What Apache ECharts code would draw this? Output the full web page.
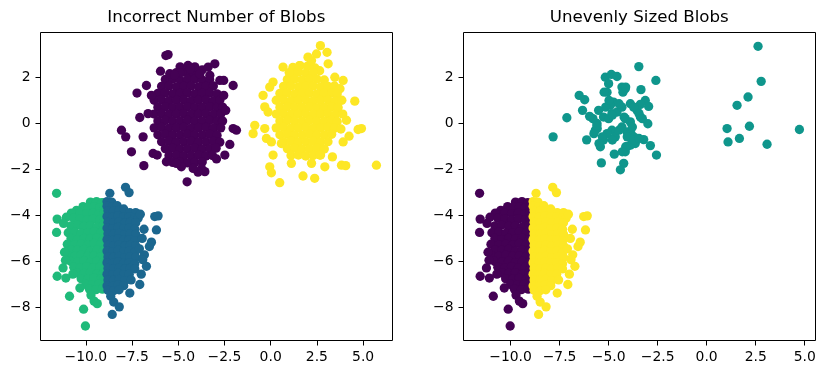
<!DOCTYPE html>
<html>
<head>
<meta charset="utf-8">
<script src="https://cdn.jsdelivr.net/npm/echarts@6/dist/echarts.min.js"></script>
<style>
html,body{margin:0;padding:0;background:#fff;}
#chart{width:825px;height:374px;}
</style>
</head>
<body>
<div id="chart"></div>
<script>
const titles = ['Incorrect Number of Blobs', 'Unevenly Sized Blobs'];
const xTicks = [-10, -7.5, -5, -2.5, 0, 2.5, 5];
const yTicks = [-8, -6, -4, -2, 0, 2];

// lower-left blob, western part
const lowerWest = [
[-9.75,-3.42],[-9.42,-3.4],[-9.12,-3.45],
[-10.15,-3.62],[-9.85,-3.65],[-9.55,-3.62],[-9.25,-3.66],[-9.0,-3.6],
[-10.5,-3.78],[-10.78,-3.9],[-10.3,-3.9],[-9.95,-3.92],[-9.6,-3.9],[-9.28,-3.93],[-9.0,-3.88],
[-11.05,-4.08],[-10.65,-4.12],[-10.3,-4.15],[-9.95,-4.2],[-9.6,-4.15],[-9.25,-4.2],[-9.0,-4.12],
[-10.8,-4.45],[-10.45,-4.42],[-10.1,-4.48],[-9.75,-4.45],[-9.4,-4.5],[-9.05,-4.42],
[-10.95,-4.75],[-10.6,-4.72],[-10.25,-4.78],[-9.9,-4.75],[-9.55,-4.7],[-9.2,-4.76],
[-10.8,-5.0],[-10.45,-5.05],[-10.1,-5.0],[-9.75,-5.02],[-9.4,-4.98],[-9.05,-5.04],
[-11.0,-5.25],[-10.6,-5.28],[-10.25,-5.25],[-9.9,-5.3],[-9.55,-5.22],[-9.2,-5.27],
[-10.8,-5.5],[-10.45,-5.52],[-10.1,-5.48],[-9.75,-5.55],[-9.4,-5.5],[-9.05,-5.52],
[-10.95,-5.75],[-10.6,-5.78],[-10.25,-5.72],[-9.9,-5.78],[-9.55,-5.75],[-9.2,-5.8],
[-10.8,-6.0],[-10.45,-6.02],[-10.1,-5.98],[-9.75,-6.05],[-9.4,-6.0],[-9.05,-6.02],
[-10.65,-6.25],[-10.3,-6.28],[-9.95,-6.22],[-9.6,-6.28],[-9.25,-6.25],[-9.0,-6.3],
[-10.45,-6.5],[-10.1,-6.52],[-9.75,-6.48],[-9.4,-6.55],[-9.05,-6.5],
[-10.25,-6.75],[-9.9,-6.78],[-9.55,-6.72],[-9.2,-6.78],[-9.0,-6.72],
[-10.0,-7.0],[-9.65,-7.02],[-9.3,-6.98],[-9.0,-7.05],
[-9.8,-7.2],[-9.45,-7.22],[-9.1,-7.2],
[-11.58,-3.04],[-11.55,-4.16],[-11.58,-4.74],[-11.2,-4.35],[-11.15,-5.6],[-11.1,-5.95],
[-11.55,-6.64],[-11.23,-6.28],[-11.08,-6.72],[-10.88,-7.51],[-10.32,-7.15],[-10.12,-8.07],
[-10.02,-8.8],[-9.72,-7.46],[-9.55,-7.72],[-9.38,-7.83],[-10.7,-6.55]
];

// lower-left blob, eastern part
const lowerEast = [
[-8.85,-3.4],[-8.6,-3.42],
[-8.85,-3.6],[-8.55,-3.62],[-8.3,-3.58],
[-8.8,-3.8],[-8.5,-3.82],[-8.2,-3.78],[-7.95,-3.72],[-7.62,-3.88],[-7.3,-3.88],
[-8.85,-4.05],[-8.55,-4.08],[-8.25,-4.02],[-7.95,-4.06],[-7.65,-4.05],[-7.35,-4.1],[-7.17,-4.12],
[-8.8,-4.3],[-8.5,-4.32],[-8.2,-4.28],[-7.9,-4.33],[-7.6,-4.3],[-7.3,-4.32],
[-8.85,-4.55],[-8.55,-4.58],[-8.25,-4.52],[-7.95,-4.57],[-7.65,-4.55],[-7.35,-4.6],
[-8.8,-4.8],[-8.5,-4.82],[-8.2,-4.78],[-7.9,-4.83],[-7.6,-4.8],[-7.3,-4.82],
[-8.85,-5.05],[-8.55,-5.08],[-8.25,-5.02],[-7.95,-5.07],[-7.65,-5.05],[-7.35,-5.1],
[-8.8,-5.3],[-8.5,-5.32],[-8.2,-5.28],[-7.9,-5.33],[-7.6,-5.3],[-7.3,-5.32],
[-8.85,-5.55],[-8.55,-5.58],[-8.25,-5.52],[-7.95,-5.57],[-7.65,-5.55],[-7.35,-5.6],
[-8.8,-5.8],[-8.5,-5.82],[-8.2,-5.78],[-7.9,-5.83],[-7.6,-5.8],[-7.3,-5.82],
[-8.85,-6.05],[-8.55,-6.08],[-8.25,-6.02],[-7.95,-6.07],[-7.65,-6.05],[-7.35,-6.1],
[-8.8,-6.3],[-8.5,-6.32],[-8.2,-6.28],[-7.9,-6.33],[-7.6,-6.3],[-7.35,-6.32],
[-8.85,-6.55],[-8.55,-6.58],[-8.25,-6.52],[-7.95,-6.57],[-7.65,-6.55],
[-8.8,-6.8],[-8.5,-6.82],[-8.2,-6.78],[-7.9,-6.83],[-7.55,-6.8],
[-8.85,-7.05],[-8.55,-7.08],[-8.25,-7.02],[-7.95,-7.05],
[-8.8,-7.25],[-8.5,-7.27],[-8.2,-7.23],
[-8.7,-3.04],[-7.85,-2.78],[-7.66,-3.01],
[-6.27,-4.05],[-6.09,-4.02],[-6.18,-4.63],[-6.45,-5.16],[-6.56,-5.35],[-6.83,-5.71],
[-6.92,-5.92],[-6.72,-6.21],[-7.08,-7.0],[-7.62,-7.37],[-8.65,-7.51],[-8.49,-7.76],
[-8.19,-7.97],[-8.57,-8.3],[-6.85,-4.6],[-6.95,-5.0],[-7.0,-6.55],[-7.1,-5.45],[-7.05,-3.95]
];

// upper-middle blob
const upperWest = [
[-5.1,2.2],[-4.7,2.22],[-4.3,2.18],[-3.9,2.2],
[-5.7,1.9],[-5.3,1.92],[-4.9,1.88],[-4.5,1.9],[-4.1,1.92],[-3.7,1.88],[-3.3,1.9],
[-5.9,1.6],[-5.5,1.62],[-5.1,1.58],[-4.7,1.6],[-4.3,1.62],[-3.9,1.58],[-3.5,1.6],[-3.1,1.62],
[-6.1,1.3],[-5.7,1.32],[-5.3,1.28],[-4.9,1.3],[-4.5,1.32],[-4.1,1.28],[-3.7,1.3],[-3.3,1.32],[-2.9,1.28],
[-6.3,1.0],[-5.9,1.02],[-5.5,0.98],[-5.1,1.0],[-4.7,1.02],[-4.3,0.98],[-3.9,1.0],[-3.5,1.02],[-3.1,0.98],[-2.75,1.0],
[-6.1,0.7],[-5.7,0.72],[-5.3,0.68],[-4.9,0.7],[-4.5,0.72],[-4.1,0.68],[-3.7,0.7],[-3.3,0.72],[-2.9,0.68],[-2.6,0.7],
[-6.3,0.4],[-5.9,0.42],[-5.5,0.38],[-5.1,0.4],[-4.7,0.42],[-4.3,0.38],[-3.9,0.4],[-3.5,0.42],[-3.1,0.38],[-2.7,0.4],
[-6.1,0.1],[-5.7,0.12],[-5.3,0.08],[-4.9,0.1],[-4.5,0.12],[-4.1,0.08],[-3.7,0.1],[-3.3,0.12],[-2.9,0.08],[-2.6,0.1],
[-6.3,-0.2],[-5.9,-0.18],[-5.5,-0.22],[-5.1,-0.2],[-4.7,-0.18],[-4.3,-0.22],[-3.9,-0.2],[-3.5,-0.18],[-3.1,-0.22],[-2.7,-0.2],
[-6.1,-0.5],[-5.7,-0.48],[-5.3,-0.52],[-4.9,-0.5],[-4.5,-0.48],[-4.1,-0.52],[-3.7,-0.5],[-3.3,-0.48],[-2.9,-0.52],
[-5.9,-0.8],[-5.5,-0.78],[-5.1,-0.82],[-4.7,-0.8],[-4.3,-0.78],[-3.9,-0.82],[-3.5,-0.8],[-3.1,-0.78],[-2.75,-0.82],
[-5.7,-1.1],[-5.3,-1.08],[-4.9,-1.12],[-4.5,-1.1],[-4.1,-1.08],[-3.7,-1.12],[-3.3,-1.1],[-2.95,-1.08],
[-5.5,-1.4],[-5.1,-1.38],[-4.7,-1.42],[-4.3,-1.4],[-3.9,-1.38],[-3.5,-1.42],[-3.15,-1.4],
[-5.3,-1.7],[-4.9,-1.68],[-4.5,-1.72],[-4.1,-1.7],[-3.7,-1.68],
[-4.9,2.45],[-4.1,2.45],[-3.7,2.32],
[-5.67,2.94],[-5.55,2.98],[-5.96,2.26],[-5.46,2.15],[-4.47,2.51],[-4.34,2.36],[-3.83,2.15],
[-3.38,2.44],[-3.02,2.58],[-3.29,2.08],[-2.75,1.86],[-2.54,1.86],[-2.03,1.64],[-2.54,1.21],
[-2.43,0.56],[-2.03,-0.23],[-1.85,-0.3],[-2.21,-0.92],[-2.48,-1.38],[-2.93,-1.55],[-3.56,-2.1],
[-3.74,-1.96],[-3.93,-2.12],[-4.52,-2.54],[-4.19,-1.96],[-4.83,-1.89],[-5.1,-1.74],[-5.64,-1.67],
[-6.36,-1.31],[-6.14,-1.38],[-6.86,-1.84],[-7.53,-1.24],[-7.84,-0.59],[-8.07,-0.3],[-6.9,-0.59],
[-7.08,0.25],[-7.23,1.31],[-6.72,1.64],[-6.45,1.21],[-6.63,0.42],[-4.9,2.2],[-5.2,2.1]
];

// upper-right blob
const upperEast = [
[1.2,2.42],[1.6,2.5],[2.0,2.48],[2.4,2.4],[2.65,2.28],
[1.1,2.2],[1.5,2.22],[1.9,2.18],[2.3,2.2],
[0.9,1.9],[1.3,1.92],[1.7,1.88],[2.1,1.9],[2.5,1.92],[2.9,1.88],
[0.7,1.6],[1.1,1.62],[1.5,1.58],[1.9,1.6],[2.3,1.62],[2.7,1.58],[3.1,1.6],[3.45,1.62],[3.75,1.5],
[0.5,1.3],[0.9,1.32],[1.3,1.28],[1.7,1.3],[2.1,1.32],[2.5,1.28],[2.9,1.3],[3.3,1.32],[3.6,1.28],
[0.3,1.0],[0.7,1.02],[1.1,0.98],[1.5,1.0],[1.9,1.02],[2.3,0.98],[2.7,1.0],[3.1,1.02],[3.5,0.98],[3.85,1.0],
[0.5,0.7],[0.9,0.72],[1.3,0.68],[1.7,0.7],[2.1,0.72],[2.5,0.68],[2.9,0.7],[3.3,0.72],[3.65,0.68],
[0.3,0.4],[0.7,0.42],[1.1,0.38],[1.5,0.4],[1.9,0.42],[2.3,0.38],[2.7,0.4],[3.1,0.42],[3.5,0.38],[3.9,0.4],
[0.5,0.1],[0.9,0.12],[1.3,0.08],[1.7,0.1],[2.1,0.12],[2.5,0.08],[2.9,0.1],[3.3,0.12],[3.6,0.08],
[0.3,-0.2],[0.7,-0.18],[1.1,-0.22],[1.5,-0.2],[1.9,-0.18],[2.3,-0.22],[2.7,-0.2],[3.1,-0.18],[3.45,-0.22],[3.8,-0.25],
[0.5,-0.5],[0.9,-0.48],[1.3,-0.52],[1.7,-0.5],[2.1,-0.48],[2.5,-0.52],[2.9,-0.5],[3.3,-0.48],
[0.7,-0.8],[1.1,-0.78],[1.5,-0.82],[1.9,-0.8],[2.3,-0.78],[2.7,-0.82],[3.1,-0.8],
[0.9,-1.1],[1.3,-1.08],[1.7,-1.12],[2.1,-1.1],[2.5,-1.08],[2.9,-1.12],
[1.1,-1.4],[1.5,-1.38],[1.9,-1.42],[2.3,-1.4],[2.7,-1.38],
[2.69,3.37],[3.05,3.08],[3.11,2.58],[2.48,3.01],[2.21,2.72],[2.02,2.87],[0.67,2.44],[0.13,1.79],
[-0.05,1.57],[-0.41,1.21],[-0.32,0.71],[-0.14,0.49],[-0.86,-0.09],[-0.95,-0.45],[-0.32,-0.23],
[-0.23,-0.66],[0.04,-0.81],[0.13,-1.38],[-0.05,-1.89],[0.04,-2.15],[0.49,-2.58],[1.12,-1.74],
[1.75,-2.29],[2.38,-2.39],[2.21,-1.74],[2.93,-1.89],[2.66,-1.38],[3.34,-1.46],[3.83,-1.82],
[4.06,-1.84],[5.72,-1.82],[4.55,0.96],[4.91,-0.23],[4.73,-0.27],[4.24,-0.56],[3.92,-0.81],
[4.1,0.13],[3.92,1.86],[3.47,2.0],[0.58,-0.88],[1.55,2.5],[1.0,2.2]
];

// uneven set: main part of the middle cluster
const unevenMid = [
[-7.83,-0.59],[-7.13,0.24],[-6.5,1.21],[-6.22,1.02],[-6.33,0.56],[-6.12,-0.72],[-5.37,-1.72],
[-5.17,2.0],[-4.86,2.12],[-4.57,2.03],[-5.08,1.35],[-5.0,1.72],[-4.32,1.57],[-4.15,1.5],
[-4.27,1.35],[-3.46,2.46],[-2.59,1.86],[-3.35,1.46],[-3.13,0.99],[-2.96,0.73],[-3.38,0.82],
[-3.55,0.56],[-3.0,-0.02],[-2.56,-1.38],[-2.87,-0.97],[-3.21,-0.71],[-3.64,-0.88],[-4.06,-1.02],
[-4.15,-1.24],[-4.71,-1.34],[-4.23,-1.74],[-4.4,-2.02],[-5.42,-1.02],[-5.26,-0.73],[-5.68,-0.3],
[-5.59,-0.01],[-5.8,0.2],[-5.26,0.27],[-5.0,0.2],[-4.83,0.42],[-4.57,0.49],[-4.83,-0.3],
[-4.66,-0.59],[-5.08,-0.45],[-4.32,-0.16],[-4.06,-0.38],[-3.89,0.06],[-4.15,0.2],[-4.32,0.7],
[-3.89,0.85],[-3.72,0.7],[-3.38,0.27],[-4.75,0.92],[-4.91,0.78],[-5.51,0.56],[-5.97,0.3],
[-3.86,-0.45],[-3.72,-0.59],[-3.89,-0.95],[-5.58,-0.23],[-5.75,-0.45],[-5.15,0.7],[-5.23,1.35],
[-4.98,0.99],[-4.13,1.57],[-4.47,0.85],[-4.21,0.27],[-4.81,0.35],[-3.45,0.42],[-3.28,0.2],
[-3.79,-0.16],[-4.47,-0.3],[-4.05,-0.59],[-3.7,-0.73],[-3.45,-0.66],[-4.13,-1.02],[-4.3,-1.24],
[-4.81,-0.73],[-5.32,-0.59],[-5.49,-0.88],[-5.6,-0.1]
];

// uneven set: small far-right group
const unevenFar = [
[2.62,3.34],[2.78,1.82],[2.11,1.14],[1.55,0.78],[1.04,-0.23],
[2.18,-0.13],[1.09,-0.81],[1.67,-0.66],[3.08,-0.91],[4.73,-0.27]
];

const FONT = 'DejaVu Sans';
const fmtX = v => (v < 0 ? '\u2212' : '') + Math.abs(v).toFixed(1);
const fmtY = v => (v < 0 ? '\u2212' : '') + Math.abs(v);

function xAx(i, min, max) {
  return {
    type: 'value', gridIndex: i, min: min, max: max,
    splitLine: {show: false},
    axisLine: {show: false, onZero: false},
    axisTick: {show: true, length: 5, inside: false, customValues: xTicks, lineStyle: {color: '#000', width: 1}},
    axisLabel: {show: true, customValues: xTicks, formatter: fmtX, margin: 10, color: '#000', fontFamily: FONT, fontSize: 13.9}
  };
}
function yAx(i) {
  return {
    type: 'value', gridIndex: i, min: -9.43, max: 3.94,
    splitLine: {show: false},
    axisLine: {show: false, onZero: false},
    axisTick: {show: true, length: 5, inside: false, customValues: yTicks, lineStyle: {color: '#000', width: 1}},
    axisLabel: {show: true, customValues: yTicks, formatter: fmtY, margin: 10, color: '#000', fontFamily: FONT, fontSize: 13.9}
  };
}
function sc(i, data, color) {
  return {
    type: 'scatter', xAxisIndex: i, yAxisIndex: i, data: data,
    symbol: 'circle', symbolSize: 9.3, silent: true,
    itemStyle: {color: color, opacity: 1},
    emphasis: {disabled: true}
  };
}

const chart = echarts.init(document.getElementById('chart'), null, {renderer: 'canvas'});
chart.setOption({
  animation: false,
  backgroundColor: '#fff',
  title: [
    {text: titles[0], left: 211.3, top: 4, textAlign: 'center',
     textStyle: {fontFamily: FONT, fontSize: 16.67, fontWeight: 'normal', color: '#000'}},
    {text: titles[1], left: 634.3, top: 4, textAlign: 'center',
     textStyle: {fontFamily: FONT, fontSize: 16.67, fontWeight: 'normal', color: '#000'}}
  ],
  grid: [
    {left: 40.5, top: 32.5, width: 352, height: 308, show: true, borderColor: '#000', borderWidth: 1, backgroundColor: 'transparent'},
    {left: 463.5, top: 32.5, width: 352, height: 308, show: true, borderColor: '#000', borderWidth: 1, backgroundColor: 'transparent'}
  ],
  xAxis: [xAx(0, -12.45, 6.59), xAx(1, -12.40, 5.55)],
  yAxis: [yAx(0), yAx(1)],
  series: [
    sc(0, upperWest, '#440154'),
    sc(0, lowerWest, '#1fba7a'),
    sc(0, lowerEast, '#1c678f'),
    sc(0, upperEast, '#fde725'),
    sc(1, lowerWest, '#440154'),
    sc(1, lowerEast, '#fde725'),
    sc(1, unevenMid.concat(unevenFar), '#0f968c')
  ]
});
</script>
</body>
</html>
